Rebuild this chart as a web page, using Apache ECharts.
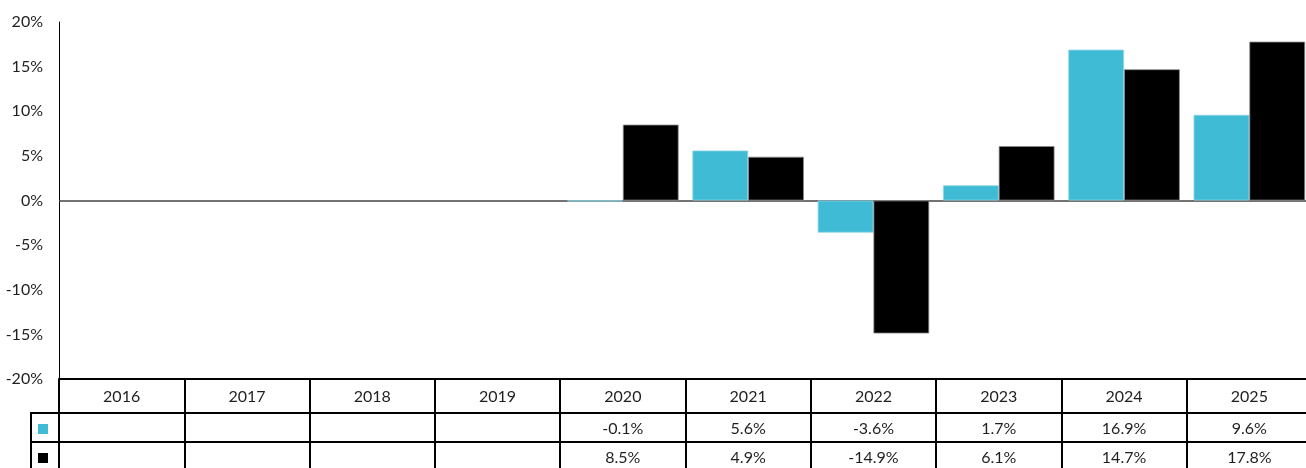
<!DOCTYPE html>
<html>
<head>
<meta charset="utf-8">
<script src="https://cdn.jsdelivr.net/npm/echarts@6/dist/echarts.min.js"></script>
<style>
  html, body { margin: 0; padding: 0; background: #fff; }
  #chart { width: 1306px; height: 468px; }
</style>
</head>
<body>
<div id="chart"></div>
<script>
// Calendar years shown along the axis and in the table header
const years = ['2016', '2017', '2018', '2019', '2020', '2021', '2022', '2023', '2024', '2025'];
// Annual returns (%), null where no figure exists
const fundReturns = [null, null, null, null, -0.1, 5.6, -3.6, 1.7, 16.9, 9.6];
const indexReturns = [null, null, null, null, 8.5, 4.9, -14.9, 6.1, 14.7, 17.8];
// Value axis ticks (%)
const yMin = -20, yMax = 20, yStep = 5;

const CYAN = '#3FBBD5';
const INK = '#000000';
const TEXT = '#1f1f1f';
const FONT = 'Lato, "Noto Sans", sans-serif';
const FS = 16;

const fmtPct = v => (v == null ? '' : v.toFixed(1) + '%');

const chart = echarts.init(document.getElementById('chart'), null, { renderer: 'canvas' });

// One category axis per table row: the axis line is the row's top border,
// the boundary ticks are the cell dividers.
function tableAxis(offset, tickLen, margin, formatter) {
  return {
    type: 'category',
    data: years,
    position: 'bottom',
    offset: offset,
    boundaryGap: true,
    axisLine: { show: true, onZero: false, lineStyle: { color: INK, width: 2 } },
    axisTick: { show: true, alignWithLabel: false, length: tickLen, lineStyle: { color: INK, width: 2 } },
    axisLabel: { show: true, margin: margin, color: TEXT, fontSize: FS, fontFamily: FONT, formatter: formatter },
    splitLine: { show: false }
  };
}

// Key square for one value row
function keyLegend(name, top) {
  return {
    orient: 'vertical',
    left: 38,
    top: top,
    padding: 0,
    itemWidth: 10,
    itemHeight: 10,
    icon: 'rect',
    selectedMode: false,
    formatter: () => '',
    itemStyle: { borderWidth: 0 },
    data: [name]
  };
}

const option = {
  animation: false,
  backgroundColor: '#fff',
  grid: { left: 59, top: 22, bottom: 89, width: 1253, containLabel: false, outerBoundsMode: 'none' },
  legend: [keyLegend('Fund', 424), keyLegend('Index', 453)],
  xAxis: [
    tableAxis(0, 34, 10, v => v),
    tableAxis(34, 29, 8, (v, i) => fmtPct(fundReturns[i])),
    tableAxis(63, 30, 8, (v, i) => fmtPct(indexReturns[i]))
  ],
  yAxis: {
    type: 'value',
    min: yMin,
    max: yMax,
    interval: yStep,
    axisLine: { show: true, lineStyle: { color: INK, width: 1 } },
    axisTick: { show: false },
    splitLine: { show: false },
    axisLabel: { margin: 16, color: TEXT, fontSize: FS, fontFamily: FONT, formatter: '{value}%' }
  },
  series: [
    {
      name: 'Fund',
      type: 'bar',
      xAxisIndex: 0,
      data: fundReturns,
      barGap: '0%',
      barCategoryGap: '11%',
      itemStyle: { color: CYAN, borderColor: '#8fd6e6', borderWidth: 0.8 },
      markLine: {
        silent: true,
        symbol: 'none',
        label: { show: false },
        lineStyle: { color: '#444', width: 1.5, type: 'solid' },
        data: [{ yAxis: 0 }],
        z: 1
      }
    },
    {
      name: 'Index',
      type: 'bar',
      xAxisIndex: 0,
      data: indexReturns,
      barGap: '0%',
      barCategoryGap: '11%',
      itemStyle: { color: INK, borderColor: '#8a8a8a', borderWidth: 0.8 }
    }
  ],
  // Borders of the small key column to the left of the value rows
  graphic: [
    { type: 'line', shape: { x1: 31, y1: 413, x2: 59, y2: 413 }, style: { stroke: INK, lineWidth: 2 } },
    { type: 'line', shape: { x1: 31, y1: 442, x2: 59, y2: 442 }, style: { stroke: INK, lineWidth: 2 } },
    { type: 'line', shape: { x1: 31, y1: 412, x2: 31, y2: 468 }, style: { stroke: INK, lineWidth: 2 } }
  ]
};

chart.setOption(option);
</script>
</body>
</html>
